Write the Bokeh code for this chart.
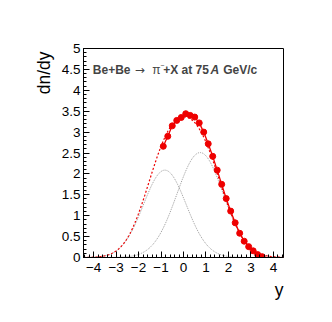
import numpy as np
from bokeh.plotting import figure
from bokeh.models import Label, FixedTicker, Range1d, Title
from bokeh.embed import file_html
from bokeh.resources import INLINE

# measured dn/dy points
y_pts = [-0.9, -0.7, -0.5, -0.3, -0.1, 0.1, 0.3, 0.5, 0.7, 0.9, 1.1, 1.3, 1.5,
         1.7, 1.9, 2.1, 2.3, 2.5, 2.7, 2.9, 3.1, 3.3, 3.5]
dndy = [2.66, 2.90, 3.15, 3.28, 3.35, 3.44, 3.40, 3.36, 3.22, 3.00, 2.72, 2.42,
        2.09, 1.75, 1.41, 1.11, 0.83, 0.58, 0.39, 0.26, 0.16, 0.07, 0.02]

# double-gaussian fit components (amplitude, mean, sigma)
g1_amp, g1_mean, g1_sigma = 2.09, -0.83, 0.95
g2_amp, g2_mean, g2_sigma = 2.51, 0.74, 1.03

x_ticks = [-4, -3, -2, -1, 0, 1, 2, 3, 4]
x_tick_labels = ["\u22124", "\u22123", "\u22122", "\u22121", "0", "1", "2", "3", "4"]
y_ticks = [0, 0.5, 1, 1.5, 2, 2.5, 3, 3.5, 4, 4.5, 5]
y_tick_labels = ["0", "0.5", "1", "1.5", "2", "2.5", "3", "3.5", "4", "4.5", "5"]

XMIN, XMAX = -4.45, 4.45
RED = "#ee0000"
FONT = "Liberation Sans"

xs = np.linspace(XMIN, XMAX, 400)
g1 = g1_amp * np.exp(-0.5 * ((xs - g1_mean) / g1_sigma) ** 2)
g2 = g2_amp * np.exp(-0.5 * ((xs - g2_mean) / g2_sigma) ** 2)

p = figure(width=316, height=306, output_backend="svg", toolbar_location=None,
           x_range=Range1d(XMIN, XMAX), y_range=Range1d(0, 5),
           min_border_left=83, min_border_right=33, min_border_top=48,
           min_border_bottom=49)
p.grid.visible = False
p.outline_line_color = "black"
p.outline_line_width = 1
p.background_fill_color = "white"
p.border_fill_color = "white"

p.line(xs, g1, line_color="#999999", line_dash="1 1", line_width=1)
p.line(xs, g2, line_color="#999999", line_dash="1 1", line_width=1)
p.line(xs, g1 + g2, line_color=RED, line_dash="2 2", line_width=1.2)
p.line(y_pts, dndy, line_color=RED, line_width=1.3)
p.scatter(y_pts, dndy, size=6, fill_color=RED, line_color=RED)

minor_x = [round(v, 2) for v in np.arange(-4.4, 4.41, 0.2)]
minor_y = [round(v, 2) for v in np.arange(0, 5.01, 0.1)]

xa = p.xaxis[0]
xa.ticker = FixedTicker(ticks=x_ticks, minor_ticks=minor_x)
xa.major_label_overrides = {t: l for t, l in zip(x_ticks, x_tick_labels)}
ya = p.yaxis[0]
ya.ticker = FixedTicker(ticks=y_ticks, minor_ticks=minor_y)
ya.major_label_overrides = {t: l for t, l in zip(y_ticks, y_tick_labels)}

for ax in (xa, ya):
    ax.major_tick_in = 6
    ax.major_tick_out = 0
    ax.minor_tick_in = 3
    ax.minor_tick_out = 0
    ax.major_label_text_font = FONT
    ax.major_label_text_font_size = "13.5px"
    ax.major_label_text_color = "black"
    ax.axis_line_color = "black"
    ax.major_tick_line_color = "black"
    ax.minor_tick_line_color = "black"
xa.major_label_standoff = 5
ya.major_label_standoff = 3

# axis titles (top / right aligned, as in ROOT)
p.add_layout(Title(text="dn/dy", align="right", text_font=FONT,
                   text_font_size="17.5px", text_font_style="normal",
                   text_color="black", standoff=9, offset=3), "left")
p.add_layout(Title(text="y", align="right", text_font=FONT,
                   text_font_size="17.5px", text_font_style="normal",
                   text_color="black", standoff=6), "below")

# reaction label
ty = 4.49
FS = "12px"
p.add_layout(Label(x=-4.036, y=ty, text="Be+Be", text_font=FONT, text_font_size=FS,
                   text_font_style="bold", text_baseline="alphabetic"))
p.add_layout(Label(x=-2.167, y=ty, text="\u2192", text_font="DejaVu Sans",
                   text_font_size=FS, text_baseline="alphabetic"))
p.add_layout(Label(x=-1.393, y=ty, text="\u03c0", text_font=FONT, text_font_size=FS,
                   text_baseline="alphabetic"))
p.add_layout(Label(x=-1.04, y=ty + 0.11, text="\u2212", text_font=FONT,
                   text_font_size="7px", text_baseline="alphabetic"))
p.add_layout(Label(x=-0.903, y=ty, text="+X at 75", text_font=FONT, text_font_size=FS,
                   text_font_style="bold", text_baseline="alphabetic"))
p.add_layout(Label(x=1.20, y=ty, text="A", text_font=FONT, text_font_size=FS,
                   text_font_style="bold italic", text_baseline="alphabetic"))
p.add_layout(Label(x=1.767, y=ty, text="GeV/c", text_font=FONT, text_font_size=FS,
                   text_font_style="bold", text_baseline="alphabetic"))

open("out.html", "w").write(file_html(p, INLINE))
